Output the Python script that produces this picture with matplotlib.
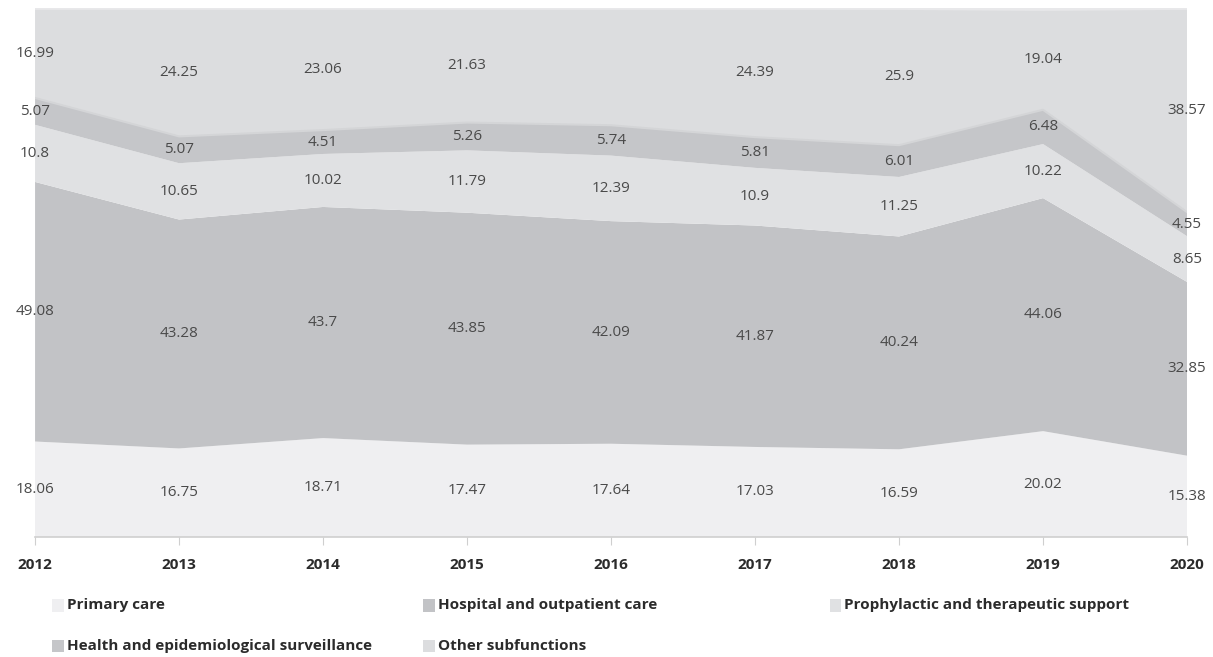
import numpy as np
import matplotlib.pyplot as plt
from matplotlib.patches import Rectangle

plt.rcParams['font.family'] = ['Open Sans', 'DejaVu Sans']

years = [2012, 2013, 2014, 2015, 2016, 2017, 2018, 2019, 2020]
primary = [18.06, 16.75, 18.71, 17.47, 17.64, 17.03, 16.59, 20.02, 15.38]
hospital = [49.08, 43.28, 43.7, 43.85, 42.09, 41.87, 40.24, 44.06, 32.85]
prophylactic = [10.8, 10.65, 10.02, 11.79, 12.39, 10.9, 11.25, 10.22, 8.65]
surveillance = [5.07, 5.07, 4.51, 5.26, 5.74, 5.81, 6.01, 6.48, 4.55]
other = [16.99, 24.25, 23.06, 21.63, 22.14, 24.39, 25.9, 19.04, 38.57]
# 2016 value for "other" is not printed on the chart
other_shown = [True, True, True, True, False, True, True, True, True]

names = ['Primary care', 'Hospital and outpatient care', 'Prophylactic and therapeutic support',
         'Health and epidemiological surveillance', 'Other subfunctions']
colors = ['#efeff1', '#c2c3c6', '#e0e1e3', '#c5c6c9', '#dcdddf']

series = [primary, hospital, prophylactic, surveillance, other]

fig = plt.figure(figsize=(12.13, 6.57), dpi=100)
ax = fig.add_axes([0.0289, 0.1826, 0.9497, 0.805])

x = np.arange(len(years))
data = np.array(series)
ax.stackplot(x, data, colors=colors, linewidth=0)
tops = data.cumsum(axis=0)
ax.plot(x, tops[-1], color='#e8e8ea', lw=2.5, zorder=3)
ax.plot(x, tops[3], color='#d4d5d7', lw=1.5, zorder=3)

bottoms = tops - data
for k, vals in enumerate(series):
    for i, v in enumerate(vals):
        if k == 4 and not other_shown[i]:
            continue
        yc = bottoms[k, i] + v / 2
        ax.text(x[i], yc, f'{v:g}', ha='center', va='center', fontsize=11,
                color='#4a4a4a', zorder=4, clip_on=False)

ax.set_xlim(0, len(years) - 1)
ax.set_ylim(0, tops[-1].max())
ax.set_xticks(x)
ax.set_xticklabels([str(y) for y in years], fontweight='bold', fontsize=11, color='#2b2b2b')
ax.tick_params(axis='x', length=6, color='#cfcfcf', pad=9)
ax.set_yticks([])
for s in ['top', 'right', 'left']:
    ax.spines[s].set_visible(False)
ax.spines['bottom'].set_color('#cfcfcf')
ax.spines['bottom'].set_linewidth(1.2)

# legend drawn by hand, two rows
legend_pos = [(0.043, 0.069), (0.349, 0.069), (0.684, 0.069),
              (0.043, 0.007), (0.349, 0.007)]
for (lx, ly), name, c in zip(legend_pos, names, colors):
    fig.patches.append(Rectangle((lx, ly), 0.0095, 0.019, transform=fig.transFigure,
                                 facecolor=c, edgecolor='none'))
    fig.text(lx + 0.012, ly + 0.0095, name, fontsize=11, fontweight='bold',
             color='#2b2b2b', va='center', ha='left')

fig.savefig('out.png', dpi=100)
